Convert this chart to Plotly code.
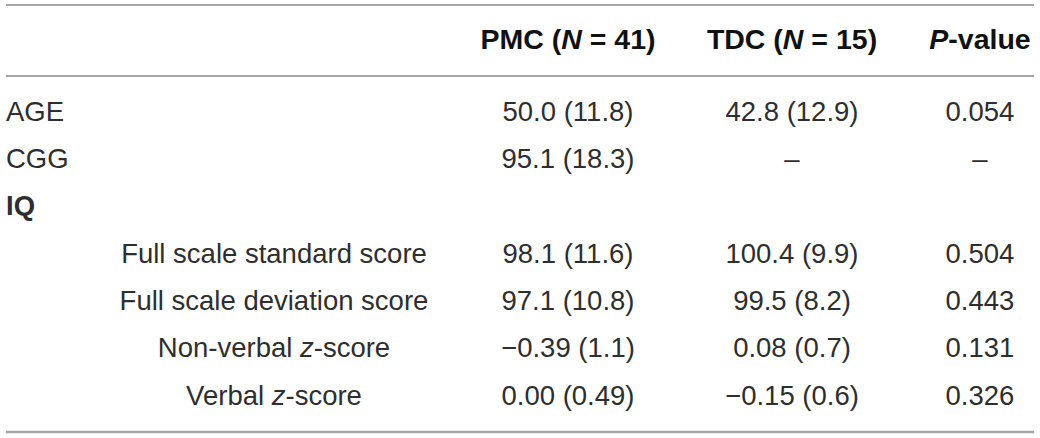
import plotly.graph_objects as go

# ---- data ----
headers = ["", "<b>PMC (<i>N</i> = 41)</b>", "<b>TDC (<i>N</i> = 15)</b>", "<b><i>P</i>-value</b>"]
row_labels = ["AGE", "CGG", "<b>IQ</b>",
              "Full scale standard score", "Full scale deviation score",
              "Non-verbal <i>z</i>-score", "Verbal <i>z</i>-score"]
row_indent = [False, False, False, True, True, True, True]
pmc_vals = ["50.0 (11.8)", "95.1 (18.3)", "", "98.1 (11.6)", "97.1 (10.8)", "\u22120.39 (1.1)", "0.00 (0.49)"]
tdc_vals = ["42.8 (12.9)", "\u2013", "", "100.4 (9.9)", "99.5 (8.2)", "0.08 (0.7)", "\u22120.15 (0.6)"]
p_vals = ["0.054", "\u2013", "", "0.504", "0.443", "0.131", "0.326"]

# ---- layout constants ----
W, H = 1040, 438
FONT = "Liberation Sans, Arial, Helvetica, sans-serif"
FS = 27.5
FSH = 28.5
TXT = "#2e2e2e"
LINE = "#a6a6a6"
header_y = 42
row_y0, row_dy = 114, 47.3
label_x = 6
indent_center_x = 274
col_x = [568, 792, 980]
rule_y = [5, 76, 432]
rule_x = (6, 1034)

fig = go.Figure()

fig.add_trace(go.Scatter(
    x=col_x, y=[header_y] * 3, text=headers[1:], mode="text",
    textposition="middle center", cliponaxis=False,
    textfont=dict(family=FONT, size=FSH, color="#111"),
    hoverinfo="skip", showlegend=False))

ys = [row_y0 + i * row_dy for i in range(len(row_labels))]

lx, ly, lt = [], [], []
cx, cy, ct = [], [], []
for lab, ind, y in zip(row_labels, row_indent, ys):
    if ind:
        cx.append(indent_center_x); cy.append(y); ct.append(lab)
    else:
        lx.append(label_x); ly.append(y); lt.append(lab)

fig.add_trace(go.Scatter(
    x=lx, y=ly, text=lt, mode="text", textposition="middle right", cliponaxis=False,
    textfont=dict(family=FONT, size=FS, color=TXT),
    hoverinfo="skip", showlegend=False))
fig.add_trace(go.Scatter(
    x=cx, y=cy, text=ct, mode="text", textposition="middle center", cliponaxis=False,
    textfont=dict(family=FONT, size=FS, color=TXT),
    hoverinfo="skip", showlegend=False))

for xcol, vals in zip(col_x, [pmc_vals, tdc_vals, p_vals]):
    fig.add_trace(go.Scatter(
        x=[xcol] * len(vals), y=ys, text=vals, mode="text",
        textposition="middle center", cliponaxis=False,
        textfont=dict(family=FONT, size=FS, color=TXT),
        hoverinfo="skip", showlegend=False))

for i, ry in enumerate(rule_y):
    fig.add_shape(type="line", xref="x", yref="y",
                  x0=rule_x[0], x1=rule_x[1], y0=ry, y1=ry,
                  line=dict(color=LINE, width=2.5 if i == 2 else 2))

fig.update_layout(
    width=W, height=H,
    margin=dict(l=0, r=0, t=0, b=0),
    paper_bgcolor="white", plot_bgcolor="white",
    xaxis=dict(range=[0, W], visible=False, fixedrange=True),
    yaxis=dict(range=[H, 0], visible=False, fixedrange=True),
)

fig.write_html("out.html",
               config={"displayModeBar": False},
               post_script="document.body.style.margin='0';document.body.style.overflow='hidden';")
